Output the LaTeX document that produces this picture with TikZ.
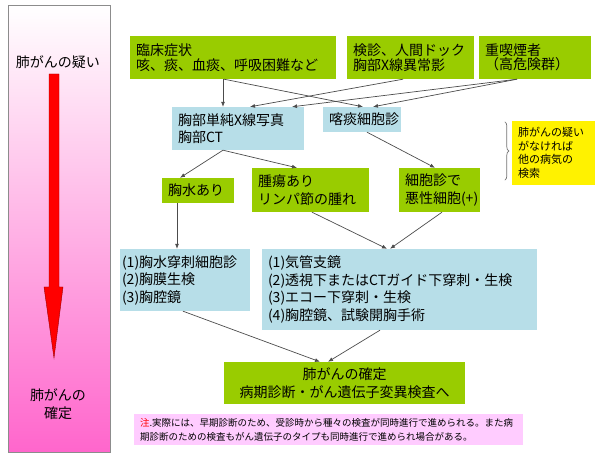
\documentclass[tikz,border=0pt]{standalone}
\usepackage{fontspec}
\setmainfont{Noto Sans CJK JP}
\usetikzlibrary{arrows.meta,positioning,decorations.pathreplacing}
\definecolor{lgreen}{HTML}{99CC00}
\definecolor{lblue}{HTML}{B7DEE8}
\definecolor{lpink}{HTML}{FFCCFF}
\definecolor{barpink}{HTML}{FF66CC}
\begin{document}
\begin{tikzpicture}[
      x=1pt, y=-1pt,
      box/.style={inner xsep=6pt, inner ysep=0pt, align=left, font=\fontsize{14}{17.5}\selectfont},
      gbox/.style={box, fill=lgreen},
      tbox/.style={gbox, font=\fontsize{14}{14.5}\selectfont},
      bbox/.style={box, fill=lblue},
      arr/.style={-{Latex[length=5pt,width=4pt]}, line width=0.7pt, draw=black!70}
    ]
      \useasboundingbox (0,0) rectangle (600,462);
      % left bar
      \shade[top color=white, bottom color=barpink, draw=black!45] (8,5) rectangle (110,452);
      \node[font=\fontsize{14}{18}\selectfont] (doubt) at (58,62) {肺がんの疑い};
      \node[font=\fontsize{14}{18}\selectfont, align=center] (sure) at (58,404) {肺がんの\\確定};
      \draw[fill=red, draw=red!60!black, line width=0.4pt] (49,74) -- (59,74) -- (59,287) -- (63,287)
        -- (54,358) -- (44,287) -- (49,287) -- cycle;
      % top row
      \node[tbox, minimum width=206pt, minimum height=43pt, text width=194pt] (symp) at (233,57.5)
        {臨床症状\\咳、痰、血痰、呼吸困難など};
      \node[tbox, minimum width=127pt, minimum height=43pt, text width=115pt] (check) at (410.5,57.5)
        {検診、人間ドック\\胸部X線異常影};
      \node[tbox, minimum width=112pt, minimum height=43pt, text width=100pt] (smoker) at (535,57.5)
        {重喫煙者\\（高危険群）};
      % second row
      \node[bbox, minimum width=132pt, minimum height=43pt, text width=120pt, font=\fontsize{14}{16.7}\selectfont] (xray) at (238,128.5)
        {胸部単純X線写真\\胸部CT};
      \node[bbox, minimum width=78pt, minimum height=25pt, text width=66pt] (sputum) at (362,119.5) {喀痰細胞診};
      \node[fill=yellow, inner xsep=6pt, inner ysep=0pt, minimum width=83pt, minimum height=64pt, text width=71pt,
        align=left, font=\fontsize{11}{13.5}\selectfont] (other) at (553.5,153)
        {肺がんの疑い\\がなければ\\他の病気の\\検索};
      \draw[decorate, decoration={brace, amplitude=4pt}, draw=black!55, line width=0.7pt]
        ([xshift=-7pt, yshift=-1pt]other.north west) -- ([xshift=-7pt, yshift=5pt]other.south west);
      % third row
      \node[gbox, minimum width=72pt, minimum height=25pt, text width=60pt] (effusion) at (198,190.5) {胸水あり};
      \node[gbox, minimum width=117pt, minimum height=44pt, text width=105pt] (tumor) at (310.5,190)
        {腫瘍あり\\リンパ節の腫れ};
      \node[gbox, minimum width=81pt, minimum height=44pt, text width=69pt] (cyto) at (439.5,190)
        {細胞診で\\悪性細胞(+)};
      % fourth row
      \node[bbox, inner xsep=2pt, minimum width=130pt, minimum height=62pt, text width=126pt] (pleura) at (185,280)
        {(1)胸水穿刺細胞診\\(2)胸膜生検\\(3)胸腔鏡};
      \node[bbox, minimum width=275pt, minimum height=81pt, text width=263pt] (bronch) at (399.5,289.5)
        {(1)気管支鏡\\(2)透視下またはCTガイド下穿刺・生検\\(3)エコー下穿刺・生検\\(4)胸腔鏡、試験開胸手術};
      % result
      \node[gbox, align=center, minimum width=241pt, minimum height=42pt, font=\fontsize{14}{18}\selectfont] (final) at (344.5,383)
        {肺がんの確定\\病期診断・がん遺伝子変異検査へ};
      \node[fill=lpink, inner xsep=6pt, inner ysep=0pt, minimum width=389pt, minimum height=31pt, text width=377pt,
        align=left, font=\fontsize{9.5}{14}\selectfont] (note) at (328.5,429.5)
        {{\color{red}注}.実際には、早期診断のため、受診時から種々の検査が同時進行で進められる。また病\\期診断のための検査もがん遺伝子のタイプも同時進行で進められ場合がある。};
      % connectors
      \draw[arr] ([xshift=-10pt]symp.south) -- ([xshift=-15pt]xray.north);
      \draw[arr] ([xshift=-9pt]symp.south) -- ([xshift=1pt]sputum.north);
      \draw[arr] ([xshift=-7.5pt]check.south) -- ([xshift=12pt]xray.north);
      \draw[arr] ([xshift=-18pt]smoker.south) -- ([xshift=54pt]xray.north);
      \draw[arr] ([xshift=-18pt]smoker.south) -- ([xshift=11pt]sputum.north);
      \draw[arr] ([xshift=-15pt]xray.south) -- ([xshift=-18pt]effusion.north);
      \draw[arr] ([xshift=-15pt]xray.south) -- ([xshift=-13.5pt]tumor.north);
      \draw[arr] ([xshift=5pt]sputum.south) -- ([xshift=-4.5pt]cyto.north);
      \draw[arr] ([xshift=-21pt]effusion.south) -- ([xshift=-8pt]pleura.north);
      \draw[arr] ([xshift=1.5pt]tumor.south) -- ([xshift=-12.5pt]bronch.north);
      \draw[arr] ([xshift=2.5pt]cyto.south) -- ([xshift=-9.5pt]bronch.north);
      \draw[arr] ([xshift=-2pt]pleura.south) -- ([xshift=-24.5pt]final.north);
      \draw[arr] ([xshift=-19.5pt]bronch.south) -- ([xshift=-16.5pt]final.north);
    \end{tikzpicture}
\end{document}
